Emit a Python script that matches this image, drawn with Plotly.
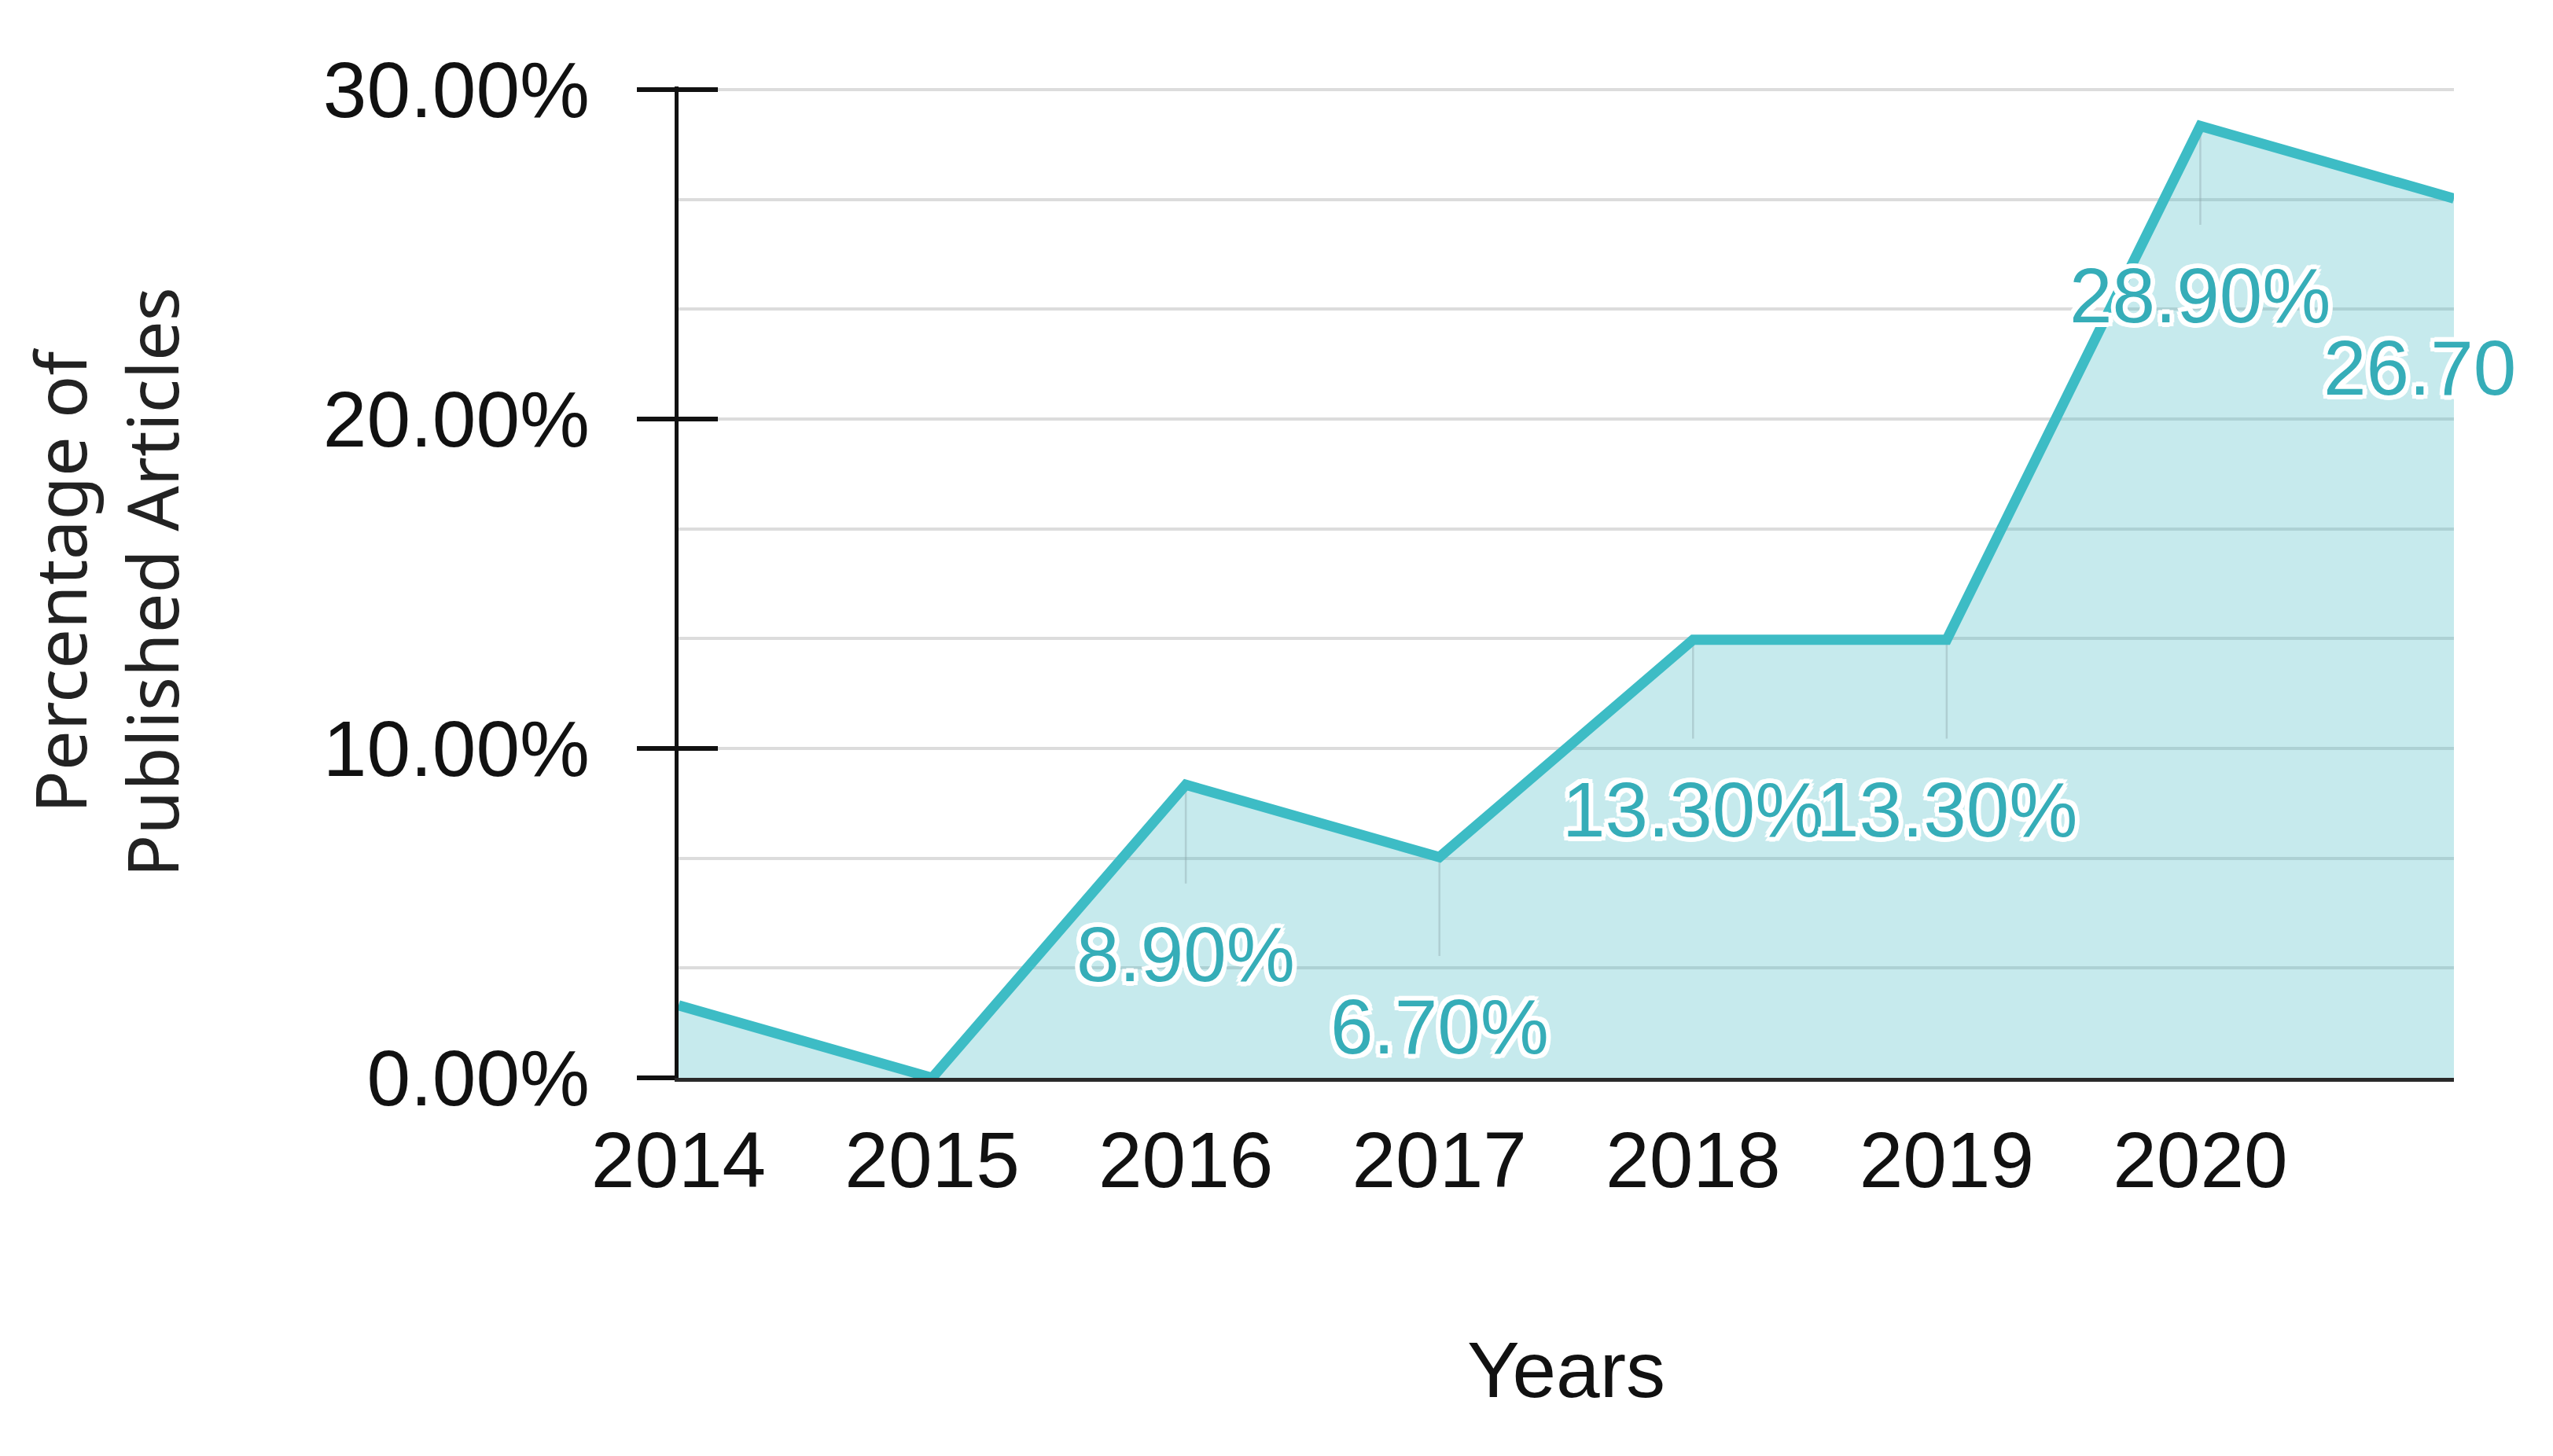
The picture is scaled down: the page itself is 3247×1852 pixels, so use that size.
import plotly.graph_objects as go

# ---- data ----
years = [2014, 2015, 2016, 2017, 2018, 2019, 2020, 2021]
share = [2.2, 0.0, 8.9, 6.7, 13.3, 13.3, 28.9, 26.7]

label_years = [2016, 2017, 2018, 2019, 2020, 2021]
label_values = [8.9, 6.7, 13.3, 13.3, 28.9, 26.7]
label_text = ["8.90%", "6.70%", "13.30%", "13.30%", "28.90%", "26.70"]

x_tick_vals = [2014, 2015, 2016, 2017, 2018, 2019, 2020]
x_tick_text = ["2014", "2015", "2016", "2017", "2018", "2019", "2020"]
y_tick_vals = [0, 10, 20, 30]
y_tick_text = ["0.00%", "10.00%", "20.00%", "30.00%"]

# ---- style ----
LINE = "#3dbcc5"
FILL = "rgba(59,182,192,0.29)"
LABEL = "#36adb8"
GRID = "#dcdcdc"
FONT = "Liberation Sans, Arial, sans-serif"
drop = [0, 0, 3, 3, 3, 3, 3, 0]

fig = go.Figure()
fig.add_trace(go.Scatter(
    x=years, y=share, mode="lines", fill="tozeroy",
    fillcolor=FILL, line=dict(color=LINE, width=13),
    error_y=dict(type="data", symmetric=False, array=[0] * len(years),
                 arrayminus=drop, color="rgba(140,165,170,0.4)",
                 thickness=2.5, width=0),
    hoverinfo="skip", showlegend=False,
))
# invisible trace to host the inside-tick axis
fig.add_trace(go.Scatter(x=years, y=share, yaxis="y2", mode="lines",
                         line=dict(width=0), opacity=0, hoverinfo="skip",
                         showlegend=False))

shadow = ("-5px -5px 0 #fff, 5px -5px 0 #fff, -5px 5px 0 #fff, 5px 5px 0 #fff, "
          "0 -6px 0 #fff, 0 6px 0 #fff, -6px 0 0 #fff, 6px 0 0 #fff")
for xv, yv, t in zip(label_years, label_values, label_text):
    fig.add_annotation(
        x=xv, y=yv, text=t, showarrow=False, xanchor="center", yanchor="middle",
        yshift=-216, xshift=(-44 if t == "26.70" else 0),
        font=dict(family=FONT, size=98, color=LABEL, shadow=shadow),
    )

fig.update_layout(
    width=3247, height=1852,
    margin=dict(l=855, r=134, t=102, b=489),
    plot_bgcolor="white", paper_bgcolor="white",
    xaxis=dict(
        range=[2014, 2021], tickvals=x_tick_vals, ticktext=x_tick_text,
        showgrid=False, zeroline=False, showline=True, linecolor="#2a2a2a",
        linewidth=5, ticks="", ticklabelstandoff=14,
        tickfont=dict(family=FONT, size=100, color="#111"),
        title=dict(text="Years", standoff=178,
                   font=dict(family=FONT, size=100, color="#111")),
    ),
    yaxis=dict(
        range=[0, 30.1], tickvals=y_tick_vals, ticktext=y_tick_text,
        showgrid=True, gridcolor=GRID, gridwidth=4, zeroline=False,
        showline=True, linecolor="#111", linewidth=5,
        ticks="outside", ticklen=48, tickwidth=6, tickcolor="#111",
        ticklabelstandoff=40,
        minor=dict(tick0=0, dtick=10 / 3, showgrid=True, gridcolor=GRID,
                   gridwidth=4, ticks=""),
        tickfont=dict(family=FONT, size=100, color="#111"),
        title=dict(text="Percentage of<br>Published Articles", standoff=155,
                   font=dict(family="Noto Sans, Open Sans, sans-serif",
                             size=90, color="#222")),
    ),
    yaxis2=dict(
        range=[0, 30.1], overlaying="y", side="left", anchor="x",
        tickvals=y_tick_vals, ticks="inside", ticklen=50, tickwidth=6,
        tickcolor="#111", showticklabels=False, showgrid=False,
        zeroline=False, showline=False,
    ),
)

fig.write_html("out.html")
